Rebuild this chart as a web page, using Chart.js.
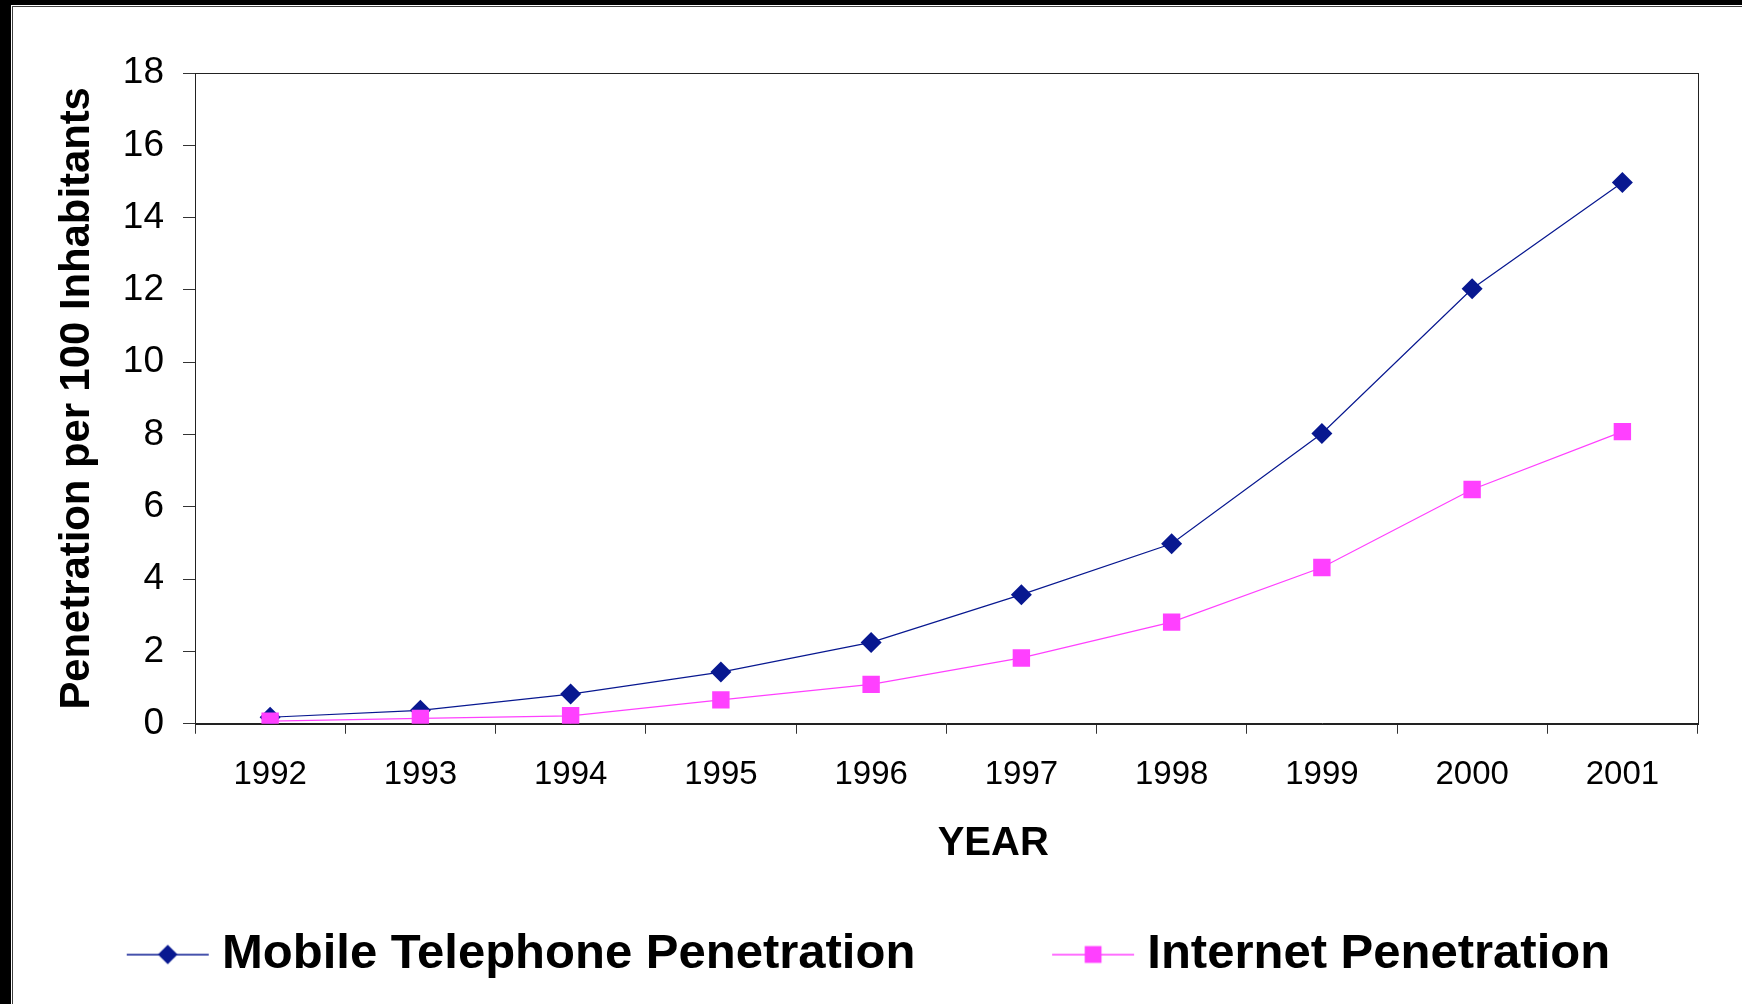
<!DOCTYPE html>
<html>
<head>
<meta charset="utf-8">
<script src="https://cdn.jsdelivr.net/npm/chart.js@4.4.1/dist/chart.umd.min.js"></script>
<style>
  html, body { margin: 0; padding: 0; background: #fff; }
  #wrap { position: relative; width: 1742px; height: 1004px; overflow: hidden; background: #fff; }
  #c { position: absolute; left: 0; top: 0; }
  .fr { position: absolute; pointer-events: none; }
</style>
</head>
<body>
<div id="wrap">
  <canvas id="c" width="1742" height="1004"></canvas>
  <div class="fr" style="left:0;top:0;width:1742px;height:5px;background:#000"></div>
  <div class="fr" style="left:0;top:0;width:11px;height:1004px;background:#000"></div>
  <div class="fr" style="left:12px;top:6px;width:1730px;height:1px;background:#404040"></div>
  <div class="fr" style="left:12px;top:6px;width:1px;height:998px;background:#404040"></div>
</div>
<script>
const years = ['1992','1993','1994','1995','1996','1997','1998','1999','2000','2001'];
const mobileValues = [0.18, 0.37, 0.82, 1.43, 2.25, 3.57, 4.98, 8.03, 12.03, 14.97];
const internetValues = [0.07, 0.15, 0.22, 0.66, 1.09, 1.82, 2.81, 4.32, 6.48, 8.08];
const seriesNames = ['Mobile Telephone Penetration', 'Internet Penetration'];
const yTicks = { min: 0, max: 18, step: 2 };
const yTitle = 'Penetration per 100 Inhabitants';
const xTitle = 'YEAR';

const NAVY = '#081890';
const MAGENTA = '#FF40FF';
const FONT = '"Liberation Sans", Arial, Helvetica, sans-serif';

const legendFontSize = 49;
const legendPad = 20;
const pointStyleW = 187.5;
const sampleOffset = 64;
const sampleHalf = 41;
const diamondR = 10.5;
const squareR = 12.3;

function makeSample(color, kind) {
  const W = 2 * (sampleOffset + sampleHalf) + 2;
  const H = 30;
  const cv = document.createElement('canvas');
  cv.width = W; cv.height = H;
  const g = cv.getContext('2d');
  const cx = W / 2 + sampleOffset;
  const cy = H / 2;
  g.strokeStyle = color;
  g.lineWidth = 1.5;
  g.beginPath();
  g.moveTo(cx - sampleHalf, cy + 0.25);
  g.lineTo(cx + sampleHalf, cy + 0.25);
  g.stroke();
  g.fillStyle = color;
  g.beginPath();
  if (kind === 'diamond') {
    const r = 9.8;
    g.moveTo(cx, cy - r); g.lineTo(cx + r, cy); g.lineTo(cx, cy + r); g.lineTo(cx - r, cy);
    g.closePath();
  } else {
    const s = 8.4;
    g.rect(cx - s, cy - s, 2 * s, 2 * s);
  }
  g.fill();
  return cv;
}
const sampleImages = [makeSample(NAVY, 'diamond'), makeSample(MAGENTA, 'square')];

const plotBorder = {
  id: 'plotBorder',
  beforeDatasetsDraw(chart) {
    const a = chart.chartArea, ctx = chart.ctx;
    ctx.save();
    ctx.strokeStyle = '#222';
    ctx.lineWidth = 1;
    ctx.strokeRect(Math.round(a.left) + 0.5, Math.round(a.top) + 0.5, Math.round(a.right - a.left), Math.round(a.bottom - a.top));
    ctx.restore();
  }
};
const xTitlePlugin = {
  id: 'xTitlePlugin',
  afterDraw(chart) {
    const a = chart.chartArea, ctx = chart.ctx;
    ctx.save();
    ctx.font = 'bold 40px ' + FONT;
    ctx.fillStyle = '#000';
    ctx.textAlign = 'center';
    ctx.textBaseline = 'alphabetic';
    ctx.fillText(xTitle, (a.left + a.right) / 2 + 47, a.bottom + 131);
    ctx.restore();
  }
};

new Chart(document.getElementById('c'), {
  type: 'line',
  data: {
    labels: years,
    datasets: [
      {
        label: seriesNames[0], data: mobileValues,
        borderColor: NAVY, backgroundColor: NAVY, borderWidth: 1.2,
        pointStyle: 'rectRot', pointRadius: diamondR, pointBorderWidth: 0,
        pointBackgroundColor: NAVY, pointHoverRadius: diamondR, tension: 0, order: 2
      },
      {
        label: seriesNames[1], data: internetValues,
        borderColor: MAGENTA, backgroundColor: MAGENTA, borderWidth: 1.2,
        pointStyle: 'rect', pointRadius: squareR, pointBorderWidth: 0,
        pointBackgroundColor: MAGENTA, pointHoverRadius: squareR, tension: 0, order: 1
      }
    ]
  },
  options: {
    responsive: false,
    animation: false,
    devicePixelRatio: 1,
    layout: { padding: { left: -10, right: 44.5, top: 73, bottom: 15 } },
    scales: {
      x: {
        type: 'category',
        offset: true,
        grid: { offset: true, drawOnChartArea: false, drawTicks: true, tickLength: 10, color: '#333', lineWidth: 1 },
        border: { display: true, color: '#222', width: 1 },
        ticks: { color: '#000', font: { family: FONT, size: 33 }, padding: 21, autoSkip: false, maxRotation: 0 },
        afterFit(scale) { scale.height = 186.25; }
      },
      y: {
        min: yTicks.min, max: yTicks.max,
        grid: { drawOnChartArea: false, drawTicks: true, tickLength: 12, color: '#333', lineWidth: 1 },
        border: { display: true, color: '#222', width: 1 },
        ticks: { stepSize: yTicks.step, color: '#000', font: { family: FONT, size: 37 }, padding: 19 },
        title: { display: true, text: yTitle, color: '#000', font: { family: FONT, size: 41.8, weight: 'bold' }, padding: { top: 62, bottom: 0 } },
        afterFit(scale) { scale.width = 205; }
      }
    },
    plugins: {
      legend: {
        display: true,
        position: 'bottom',
        align: 'start',
        labels: {
          usePointStyle: true,
          pointStyleWidth: pointStyleW,
          padding: legendPad,
          color: '#000',
          font: { family: FONT, size: legendFontSize, weight: 'bold' },
          sort: (a, b) => a.datasetIndex - b.datasetIndex,
          generateLabels(chart) {
            const items = Chart.defaults.plugins.legend.labels.generateLabels(chart);
            items.forEach(it => { it.pointStyle = sampleImages[it.datasetIndex]; });
            return items;
          }
        }
      },
      tooltip: { enabled: false },
      title: { display: false }
    }
  },
  plugins: [plotBorder, xTitlePlugin]
});
</script>
</body>
</html>
